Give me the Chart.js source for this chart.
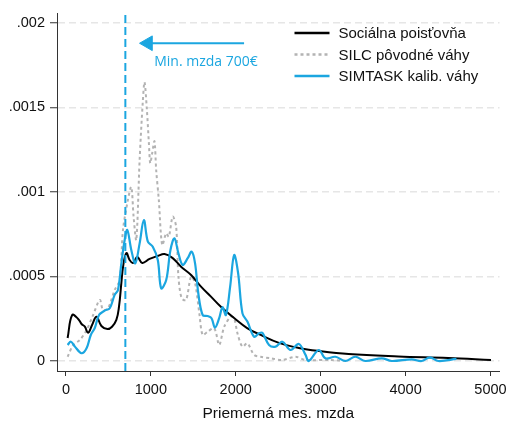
<!DOCTYPE html>
<html>
<head>
<meta charset="utf-8">
<script src="https://cdn.jsdelivr.net/npm/chart.js@4"></script>
<style>
  html, body { margin: 0; padding: 0; background: #fff; }
  #wrap { width: 509px; height: 423px; }
</style>
</head>
<body>
<div id="wrap"><canvas id="chart" width="509" height="423"></canvas></div>
<script>
// Sociálna poisťovňa
const spX = [20, 74, 144, 184, 223, 261, 308, 360, 418, 489, 543, 594, 625, 653, 676, 712, 750, 789, 841, 899, 985, 1079, 1161, 1254, 1356, 1474, 1591, 1708, 1825, 1981, 2134, 2294, 2509, 2743, 2978, 3329, 3916, 4502, 5006];
const spY = [0.000136, 0.000272, 0.000249, 0.000219, 0.000203, 0.000167, 0.000213, 0.000262, 0.000207, 0.000189, 0.000203, 0.000243, 0.000321, 0.000462, 0.000568, 0.000639, 0.000598, 0.00058, 0.000615, 0.00058, 0.000604, 0.000621, 0.000633, 0.00061, 0.000558, 0.000509, 0.00044, 0.000381, 0.000321, 0.000254, 0.000195, 0.000154, 0.000107, 0.000077, 0.000059, 0.000041, 0.000027, 0.000018, 0.000006];

// SILC pôvodné váhy
const silcX = [20, 86, 164, 243, 320, 399, 437, 496, 574, 633, 672, 730, 770, 797, 829, 868, 906, 926, 953, 977, 993, 1016, 1043, 1063, 1094, 1134, 1181, 1211, 1258, 1298, 1325, 1363, 1415, 1474, 1521, 1571, 1610, 1668, 1747, 1805, 1864, 1942, 1981, 2020, 2079, 2137, 2216, 2294, 2411, 2548, 2704, 2822, 3095, 3329];
const silcY = [0.000025, 0.000095, 0.000124, 0.000183, 0.000272, 0.000361, 0.000302, 0.000312, 0.00042, 0.000479, 0.000775, 0.000953, 0.00103, 0.000854, 0.000716, 0.00119, 0.00154, 0.00165, 0.00149, 0.00129, 0.00117, 0.00123, 0.0013, 0.00113, 0.000953, 0.000686, 0.000756, 0.000735, 0.000854, 0.000795, 0.000499, 0.000371, 0.000361, 0.000499, 0.00046, 0.000282, 0.000154, 0.000173, 0.000193, 0.000095, 0.000203, 0.000262, 0.000253, 0.000164, 0.000085, 0.000105, 0.000036, 0.000025, 0.000016, 0.000006, 0.000025, 0.000006, 0.000006, 0];

// SIMTASK kalib. váhy
const simX = [20, 59, 106, 184, 243, 293, 340, 390, 457, 516, 574, 613, 653, 692, 723, 770, 817, 868, 918, 965, 1023, 1082, 1122, 1181, 1231, 1278, 1325, 1375, 1434, 1481, 1521, 1559, 1610, 1668, 1715, 1755, 1805, 1844, 1884, 1934, 1981, 2028, 2079, 2137, 2216, 2274, 2313, 2392, 2470, 2548, 2646, 2743, 2822, 2860, 2978, 3056, 3173, 3291, 3408, 3525, 3720, 3837, 4072, 4189, 4287, 4385, 4599];
const simY = [0.000095, 0.000114, 0.000085, 0.000046, 0.000075, 0.000154, 0.000195, 0.000272, 0.000298, 0.000312, 0.000391, 0.00042, 0.000578, 0.000716, 0.000775, 0.000657, 0.000578, 0.000696, 0.000834, 0.000706, 0.000676, 0.000598, 0.00043, 0.000479, 0.000657, 0.000726, 0.000637, 0.000568, 0.000608, 0.000647, 0.000578, 0.000401, 0.000272, 0.000266, 0.000253, 0.000197, 0.000253, 0.000318, 0.000272, 0.00044, 0.000627, 0.000519, 0.000282, 0.000233, 0.000144, 0.000164, 0.000167, 0.000095, 0.000085, 0.000114, 0.000065, 0.000101, 0.000036, 0, 0.000065, 0.000016, 0.000025, 0, 0.000025, 0, 0.000016, 0, 0.00001, 0, 0.000022, 0, 0.000012];

const xTicks = [0, 1000, 2000, 3000, 4000, 5000];
const yTicks = [0, 0.0005, 0.001, 0.0015, 0.002];
const yTickLabels = ['0', '.0005', '.001', '.0015', '.002'];

const minWage = 700;
const arrowFrom = 2098;
const arrowTo = 967;
const arrowY = 0.00188;
const noteText = 'Min. mzda 700€';

const BLUE = '#1ba6e0';
const GRAY = '#b3b3b3';
const FONT = '"Liberation Sans", Arial, sans-serif';

function pts(xs, ys) {
    return xs.map((x, i) => ({ x: x, y: ys[i] }));
}

const Y_MIN = -0.0000592, Y_MAX = 0.002059;

// legend + annotation text drawn on top of chart area
const overlayPlugin = {
    id: 'overlay',
    afterDatasetsDraw(chart) {
        const ctx = chart.ctx;
        const ca = chart.chartArea;
        const xs = chart.scales.x, ys = chart.scales.y;

        ctx.save();
        ctx.fillStyle = BLUE;
        ctx.font = '14px "Open Sans"';
        ctx.textBaseline = 'middle';
        ctx.textAlign = 'left';
        ctx.fillText(noteText, xs.getPixelForValue(1040), ys.getPixelForValue(0.00177));
        ctx.restore();

        // legend
        const items = chart.data.datasets.filter(d => d.legendPos !== undefined)
            .sort((a, b) => a.legendPos - b.legendPos);
        items.forEach((d, i) => {
            const y = ca.top + 20 + i * 21.5;
            ctx.save();
            ctx.strokeStyle = d.borderColor;
            ctx.lineWidth = d.borderWidth + 0.5;
            ctx.setLineDash(d.borderDash || []);
            ctx.beginPath();
            ctx.moveTo(ca.right - 205, y);
            ctx.lineTo(ca.right - 170, y);
            ctx.stroke();
            ctx.fillStyle = '#111';
            ctx.font = '15px ' + FONT;
            ctx.textBaseline = 'middle';
            ctx.fillText(d.label, ca.right - 161, y + 1);
            ctx.restore();
        });
    }
};

new Chart(document.getElementById('chart').getContext('2d'), {
    type: 'line',
    data: {
        datasets: [
            {
                label: 'SILC pôvodné váhy',
                data: pts(silcX, silcY),
                borderColor: GRAY,
                borderWidth: 2,
                borderDash: [3, 3],
                tension: 0.3,
                legendPos: 1,
                order: 3
            },
            {
                label: 'Sociálna poisťovňa',
                data: pts(spX, spY),
                borderColor: '#000000',
                borderWidth: 2,
                tension: 0.4,
                legendPos: 0,
                order: 2
            },
            {
                label: 'SIMTASK kalib. váhy',
                data: pts(simX, simY),
                borderColor: BLUE,
                borderWidth: 2.2,
                tension: 0.35,
                legendPos: 2,
                order: 1
            },
            {
                label: 'min',
                data: [{ x: minWage, y: Y_MIN }, { x: minWage, y: Y_MAX }],
                borderColor: BLUE,
                borderWidth: 2,
                borderDash: [8, 4],
                order: 0
            },
            {
                label: 'arrow',
                data: [{ x: arrowTo, y: arrowY }, { x: arrowFrom, y: arrowY }],
                borderColor: BLUE,
                borderWidth: 2,
                pointStyle: 'triangle',
                pointRotation: 270,
                pointRadius: [8.5, 0],
                pointBackgroundColor: BLUE,
                pointBorderColor: BLUE,
                pointBorderWidth: 1,
                order: 0
            }
        ]
    },
    options: {
        responsive: false,
        animation: false,
        elements: { point: { radius: 0 } },
        layout: { padding: { left: 0, right: 7, top: 13, bottom: 0 } },
        plugins: {
            legend: { display: false },
            tooltip: { enabled: false }
        },
        scales: {
            x: {
                type: 'linear',
                min: -105,
                max: 5106,
                afterBuildTicks: s => { s.ticks = xTicks.map(v => ({ value: v })); },
                afterFit: s => { s.height = 52; s.paddingLeft = 0; s.paddingRight = 0; },
                ticks: {
                    color: '#111',
                    font: { family: FONT, size: 14.5 },
                    padding: 5,
                    maxRotation: 0,
                    callback: v => String(v)
                },
                grid: {
                    drawOnChartArea: false,
                    drawTicks: true,
                    tickLength: 5,
                    tickColor: '#333',
                    tickWidth: 1
                },
                border: { display: true, color: '#333', width: 1 },
                title: {
                    display: true,
                    text: 'Priemerná mes. mzda',
                    color: '#111',
                    font: { family: FONT, size: 15.5 },
                    padding: { top: 3, bottom: 0 }
                }
            },
            y: {
                type: 'linear',
                min: Y_MIN,
                max: Y_MAX,
                afterBuildTicks: s => { s.ticks = yTicks.map(v => ({ value: v })); },
                afterFit: s => { s.width = 57; s.paddingTop = 0; s.paddingBottom = 0; },
                ticks: {
                    color: '#111',
                    font: { family: FONT, size: 14.5 },
                    padding: 5,
                    callback: v => {
                        const i = yTicks.findIndex(t => Math.abs(t - v) < 1e-9);
                        return i >= 0 ? yTickLabels[i] : '';
                    }
                },
                grid: {
                    color: '#e6e6e6',
                    lineWidth: 1.5,
                    drawTicks: true,
                    tickLength: 7,
                    tickColor: '#333',
                    tickWidth: 1,
                    tickBorderDash: []
                },
                border: { display: true, color: '#333', width: 1, dash: [7, 4] }
            }
        }
    },
    plugins: [overlayPlugin]
});
</script>
</body>
</html>
